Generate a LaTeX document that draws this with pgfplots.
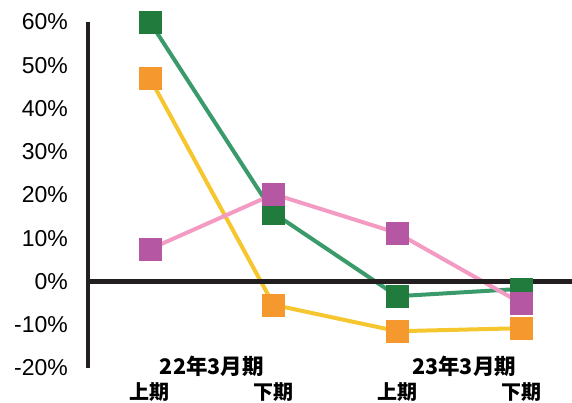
\documentclass[border=0pt]{standalone}
\usepackage{pgfplots}
\pgfplotsset{compat=1.18}
\usepackage{fontspec}
\setmainfont{Liberation Sans}
\newfontfamily\cjk{Noto Sans CJK JP}
\definecolor{gline}{HTML}{3A9A6A}
\definecolor{gmark}{HTML}{217B3D}
\definecolor{yline}{HTML}{F6C62E}
\definecolor{omark}{HTML}{F5992F}
\definecolor{pline}{HTML}{F39BC3}
\definecolor{pmark}{HTML}{B557A2}
\definecolor{axisblack}{HTML}{231F20}
\begin{document}
\begin{tikzpicture}
\path[use as bounding box] (-88pt,-35pt) rectangle (484pt,368pt);
\begin{axis}[
  at={(0pt,0pt)}, anchor=south west,
  scale only axis, width=484pt, height=346pt,
  xmin=-0.501, xmax=3.412, ymin=-20, ymax=60,
  axis x line*=bottom, axis y line*=left,
  x axis line style={draw=none},
  y axis line style={line width=4.7pt, color=axisblack},
  clip=false,
  major tick length=0pt,
  xtick={0,1,2,3},
  xticklabels={上期,下期,上期,下期},
  xticklabel style={font=\cjk\bfseries\fontsize{20}{22}\selectfont, anchor=center, yshift=-24pt, inner sep=0pt},
  ytick={-20,-10,0,10,20,30,40,50,60},
  yticklabels={-20\%,-10\%,0\%,10\%,20\%,30\%,40\%,50\%,60\%},
  yticklabel style={font=\fontsize{23}{26}\selectfont, anchor=east, inner sep=0pt, xshift=-20pt},
]
% lines
\addplot[gline, line width=4pt, no marks] coordinates {(0,60) (1,15.8) (2,-3.4) (3,-1.7)};
\addplot[yline, line width=4pt, no marks] coordinates {(0,47.0) (1,-5.4) (2,-11.5) (3,-10.8)};
\addplot[pline, line width=4pt, no marks] coordinates {(0,7.5) (1,20.2) (2,11.2) (3,-5.0)};
% zero line
\draw[axisblack, line width=5pt] (axis cs:-0.501,0) -- (axis cs:3.412,0);
% markers
\addplot[gmark, only marks, mark=square*, mark size=11pt, mark options={fill=gmark, draw=none}] coordinates {(0,60) (1,15.8) (2,-3.4) (3,-1.7)};
\addplot[omark, only marks, mark=square*, mark size=11pt, mark options={fill=omark, draw=none}] coordinates {(0,47.0) (1,-5.4) (2,-11.5) (3,-10.8)};
\addplot[pmark, only marks, mark=square*, mark size=11pt, mark options={fill=pmark, draw=none}] coordinates {(0,7.5) (1,20.2) (2,11.2) (3,-5.0)};
% group labels
\node[font=\cjk\bfseries\fontsize{21.5}{23}\selectfont, inner sep=0pt] at (axis cs:0.5,-19.5) {22年3月期};
\node[font=\cjk\bfseries\fontsize{21.5}{23}\selectfont, inner sep=0pt] at (axis cs:2.54,-19.5) {23年3月期};
\end{axis}
\end{tikzpicture}
\end{document}
